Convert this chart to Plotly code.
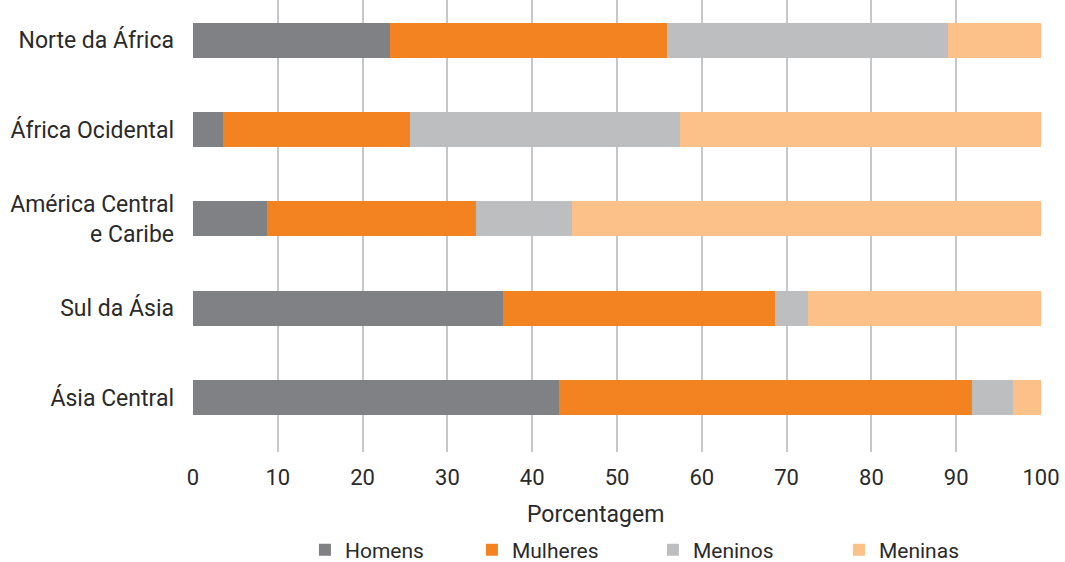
import plotly.graph_objects as go

regions = ["Norte da África", "África Ocidental", "América Central<br>e Caribe", "Sul da Ásia", "Ásia Central"]
homens = [23.2, 3.5, 8.7, 36.6, 43.2]
mulheres = [32.7, 22.1, 24.7, 32.0, 48.7]
meninos = [33.1, 31.8, 11.3, 3.9, 4.8]
meninas = [11.0, 42.6, 55.3, 27.5, 3.3]

series = [
    ("Homens", homens, "#808184", 122),
    ("Mulheres", mulheres, "#F38321", 136),
    ("Meninos", meninos, "#BCBEC0", 141),
    ("Meninas", meninas, "#FBC188", 133),
]

fig = go.Figure()
for name, vals, col, lw in series:
    fig.add_trace(go.Bar(
        y=regions, x=vals, name=name, orientation="h",
        marker=dict(color=col, line=dict(width=0)),
        legendwidth=lw,
    ))

font_family = "Roboto, Arial, sans-serif"
fig.update_layout(
    barmode="stack",
    bargap=0.61,
    width=1065, height=562,
    margin=dict(l=193, r=24, t=0, b=110, autoexpand=False),
    paper_bgcolor="white",
    plot_bgcolor="white",
    font=dict(family=font_family, size=23, color="#2a2a2a"),
    xaxis=dict(
        range=[0, 100], tickvals=[0, 10, 20, 30, 40, 50, 60, 70, 80, 90, 100],
        showgrid=True, gridcolor="#C6C7C9", gridwidth=2,
        zeroline=False, showline=False, automargin=False,
        ticklabelstandoff=10,
        tickfont=dict(size=22),
    ),
    yaxis=dict(
        type="category", range=[4.61, -0.45],
        showgrid=False, zeroline=False, showline=False, automargin=False,
        ticklabelstandoff=18,
    ),
    legend=dict(
        orientation="h", traceorder="normal",
        x=0.132, xanchor="left", y=-0.217, yanchor="middle",
        font=dict(size=21),
        itemsizing="constant",
    ),
    annotations=[dict(
        text="Porcentagem", x=0.475, xref="paper", y=-0.139, yref="paper",
        xanchor="center", yanchor="middle", showarrow=False,
        font=dict(size=23),
    )],
)

fig.write_html("out.html")
